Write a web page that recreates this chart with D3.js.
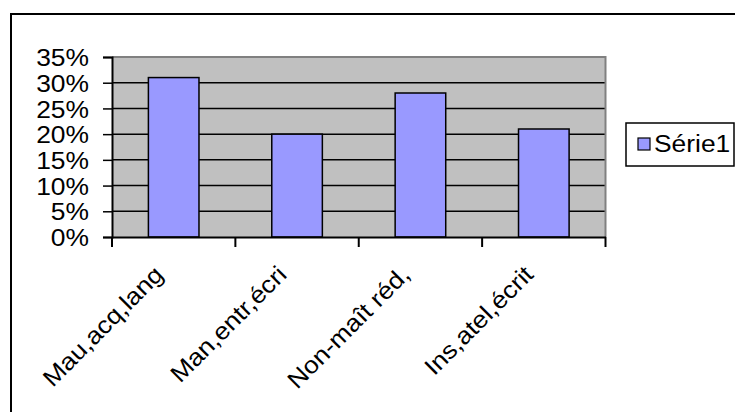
<!DOCTYPE html>
<html>
<head>
<meta charset="utf-8">
<script src="https://cdn.jsdelivr.net/npm/d3@7"></script>
<style>
  body { margin: 0; background: #fff; }
  text { font-family: "Liberation Sans", Arial, sans-serif; fill: #000; }
</style>
</head>
<body>
<script>
// data
const categories = ["Mau,acq,lang", "Man,entr,écri", "Non-maît réd,", "Ins,atel,écrit"];
const serie1 = [0.31, 0.20, 0.28, 0.21];
const yTicks = [0, 0.05, 0.10, 0.15, 0.20, 0.25, 0.30, 0.35];
const seriesName = "Série1";

const W = 735, H = 412;
const plot = { left: 112, right: 605.5, top: 57, bottom: 237 };
const stretch = 1.1; // the original text is a bit wider than Arial

const svg = d3.select("body").append("svg")
  .attr("width", W).attr("height", H);

// outer chart frame (cut off at right and bottom)
svg.append("rect")
  .attr("x", 11).attr("y", 14)
  .attr("width", 760).attr("height", 440)
  .attr("fill", "#fff").attr("stroke", "#000").attr("stroke-width", 2);

const x = d3.scaleBand()
  .domain(categories)
  .range([plot.left, plot.right])
  .padding(0);

const y = d3.scaleLinear()
  .domain([0, 0.35])
  .range([plot.bottom, plot.top]);

// plot background
svg.append("rect")
  .attr("x", plot.left).attr("y", plot.top)
  .attr("width", plot.right - plot.left)
  .attr("height", plot.bottom - plot.top)
  .attr("fill", "#c0c0c0");

// gridlines
svg.append("g")
  .selectAll("line")
  .data(yTicks.filter(d => d > 0 && d < 0.35))
  .join("line")
  .attr("x1", plot.left).attr("x2", plot.right)
  .attr("y1", d => y(d)).attr("y2", d => y(d))
  .attr("stroke", "#000").attr("stroke-width", 1.5);

// gray border top/right
svg.append("path")
  .attr("d", `M${plot.left},${plot.top}H${plot.right}V${plot.bottom}`)
  .attr("fill", "none").attr("stroke", "#808080").attr("stroke-width", 2);

// bars
const barW = x.bandwidth() * 0.41;
svg.append("g")
  .selectAll("rect")
  .data(serie1)
  .join("rect")
  .attr("x", (d, i) => x(categories[i]) + x.bandwidth() / 2 - barW / 2)
  .attr("y", d => y(d))
  .attr("width", barW)
  .attr("height", d => y(0) - y(d))
  .attr("fill", "#9999ff")
  .attr("stroke", "#000").attr("stroke-width", 1.5);

// y axis
const yAxis = svg.append("g")
  .attr("transform", `translate(${plot.left},0)`)
  .call(d3.axisLeft(y).tickValues(yTicks).tickFormat(d3.format(".0%")).tickSize(9));
yAxis.select(".domain").attr("stroke", "#000").attr("stroke-width", 2);
yAxis.selectAll(".tick line").attr("stroke", "#000").attr("stroke-width", 1.5);
yAxis.selectAll(".tick text")
  .attr("x", null)
  .attr("font-size", 24).attr("font-family", "'Liberation Sans', Arial, sans-serif")
  .attr("fill", "#000").attr("dy", "0.36em")
  .attr("transform", `translate(-23,0) scale(${stretch},1)`);

// x axis
const xAxis = svg.append("g")
  .attr("transform", `translate(0,${plot.bottom})`)
  .call(d3.axisBottom(x).tickSize(0).tickFormat(""));
xAxis.select(".domain").attr("stroke", "#000").attr("stroke-width", 2);
xAxis.selectAll(".tick").remove();

// x tick marks at category boundaries
svg.append("g")
  .selectAll("line")
  .data(categories.concat([null]))
  .join("line")
  .attr("x1", (d, i) => i < categories.length ? x(d) : plot.right)
  .attr("x2", (d, i) => i < categories.length ? x(d) : plot.right)
  .attr("y1", plot.bottom).attr("y2", plot.bottom + 10)
  .attr("stroke", "#000").attr("stroke-width", 2);

// rotated category labels
svg.append("g")
  .selectAll("text")
  .data(categories)
  .join("text")
  .attr("transform", d => `translate(${x(d) + x.bandwidth() / 2 - 9},${plot.bottom + 39}) rotate(-45) scale(${stretch},1)`)
  .attr("text-anchor", "end")
  .attr("font-size", 24)
  .text(d => d);

// legend
const lg = svg.append("g").attr("transform", "translate(626,123)");
lg.append("rect")
  .attr("width", 108).attr("height", 43)
  .attr("fill", "#fff").attr("stroke", "#000").attr("stroke-width", 1.5);
lg.append("rect")
  .attr("x", 12).attr("y", 15).attr("width", 12).attr("height", 12)
  .attr("fill", "#9999ff").attr("stroke", "#000").attr("stroke-width", 1.2);
lg.append("text")
  .attr("transform", `translate(28,29) scale(${stretch},1)`)
  .attr("font-size", 24)
  .text(seriesName);
</script>
</body>
</html>
